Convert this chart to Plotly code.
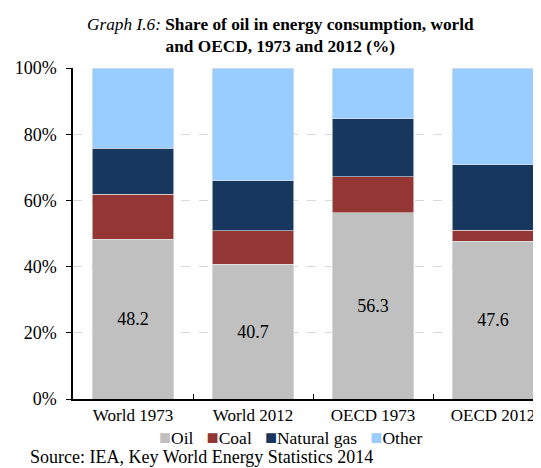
import plotly.graph_objects as go

categories = ["World 1973", "World 2012", "OECD 1973", "OECD 2012"]
oil = [48.2, 40.7, 56.3, 47.6]
coal = [13.7, 10.1, 10.8, 3.4]
gas = [13.8, 15.1, 17.5, 19.7]
other = [24.3, 34.1, 15.4, 29.3]
yticks = [0, 20, 40, 60, 80, 100]
ytick_labels = ["0%", "20%", "40%", "60%", "80%", "100%"]

FONT = "Liberation Serif, Times New Roman, serif"
OFF = 8  # page body margin in the browser
W, H = 541 - OFF, 468 - OFF
L, R, T, B = 73 - OFF, 0, 68 - OFF, 468 - 399
plot_w = W - L - R
plot_h = H - T - B


def px_x(x):
    return (x - OFF - L) / plot_w


def px_y(y):
    return (H - B - (y - OFF)) / plot_h


fig = go.Figure()
series = [("Oil", oil, "#C0C0C0"), ("Coal", coal, "#943634"),
          ("Natural gas", gas, "#17375E"), ("Other", other, "#99CCFF")]
for name, vals, col in series:
    fig.add_trace(go.Bar(
        x=categories, y=vals, name=name, width=0.68,
        marker=dict(color=col, line=dict(color="#E6E6E6", width=0.6)),
        text=[f"{v:.1f}" for v in vals] if name == "Oil" else None,
        textposition="inside" if name == "Oil" else "none",
        insidetextanchor="middle",
        textfont=dict(family=FONT, size=18, color="black"),
        hoverinfo="skip", showlegend=False,
    ))

legend_text = "&nbsp;&nbsp;&nbsp;".join(
    f'<span style="color:{col};font-size:20px">■</span>{name}' for name, _, col in series)

fig.update_layout(
    barmode="stack",
    width=W, height=H,
    margin=dict(l=L, r=R, t=T, b=B, autoexpand=False),
    paper_bgcolor="white", plot_bgcolor="white",
    font=dict(family=FONT, size=17.5, color="black"),
    showlegend=False,
    annotations=[
        dict(text="<i>Graph I.6:</i> <b>Share of oil in energy consumption, world</b><br><b>and OECD, 1973 and 2012 (%)</b>",
             x=px_x(280), y=px_y(36), xref="paper", yref="paper", showarrow=False,
             font=dict(family=FONT, size=17.3), align="center",
             xanchor="center", yanchor="middle"),
        dict(text=legend_text,
             x=px_x(290), y=px_y(437), xref="paper", yref="paper", showarrow=False,
             font=dict(family=FONT, size=17.5), xanchor="center", yanchor="middle"),
        dict(text="Source: IEA, Key World Energy Statistics 2014",
             x=px_x(28), y=px_y(457), xref="paper", yref="paper", showarrow=False,
             font=dict(family=FONT, size=18), align="left",
             xanchor="left", yanchor="middle"),
    ],
)

fig.update_xaxes(
    range=[-0.5, 3.4], showline=True, linecolor="black", linewidth=2,
    ticks="inside", tickson="boundaries", ticklen=5, tickcolor="black",
    showgrid=False, tickfont=dict(family=FONT, size=17),
)
fig.update_yaxes(
    range=[0, 100], tickvals=yticks, ticktext=ytick_labels,
    showline=True, linecolor="black", linewidth=1.5,
    ticks="outside", ticklen=5, tickcolor="black", ticklabelstandoff=6,
    showgrid=True, gridcolor="#D9D9D9", griddash="dash", gridwidth=1,
    tickfont=dict(family=FONT, size=18), zeroline=False,
)

fig.write_html("out.html")
